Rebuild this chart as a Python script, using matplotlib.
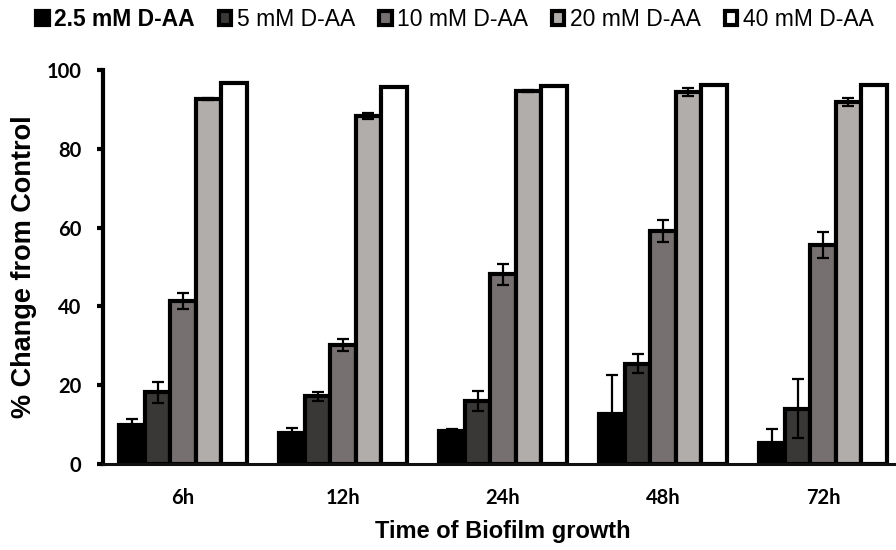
import numpy as np
import matplotlib
matplotlib.use("Agg")
import matplotlib.pyplot as plt
from matplotlib.patches import Patch

# data
times = ["6h", "12h", "24h", "48h", "72h"]
series = ["2.5 mM D-AA", "5 mM D-AA", "10 mM D-AA", "20 mM D-AA", "40 mM D-AA"]
d25 = [9.9, 7.9, 8.3, 12.7, 5.3]
d5 = [18.2, 17.2, 16.0, 25.5, 14.0]
d10 = [41.4, 30.2, 48.1, 59.1, 55.6]
d20 = [92.7, 88.3, 94.7, 94.5, 91.8]
d40 = [96.8, 95.6, 95.9, 96.1, 96.3]
e25 = [1.5, 1.3, 0.7, 9.9, 3.6]
e5 = [2.7, 1.1, 2.6, 2.4, 7.5]
e10 = [2.1, 1.6, 2.6, 2.8, 3.3]
e20 = [0.3, 0.7, 0.2, 1.0, 1.0]
e40 = [0.0, 0.0, 0.0, 0.0, 0.0]

vals = [d25, d5, d10, d20, d40]
errs = [e25, e5, e10, e20, e40]
colors = ["#000000", "#3a3836", "#767170", "#b0adab", "#ffffff"]

fig = plt.figure(figsize=(8.96, 5.5), dpi=100)
ax = fig.add_axes([103/896, 86/550, 800/896, 394/550])

x = np.arange(len(times))
w = 0.159
for i in range(5):
    pos = x + (i - 2) * w
    ax.bar(pos, vals[i], w, color=colors[i], edgecolor="black", linewidth=3, zorder=2)
    ax.errorbar(pos, vals[i], yerr=errs[i], fmt="none", ecolor="black",
                elinewidth=1.6, capsize=4.5, capthick=1.6, zorder=3)

ax.set_xlim(-0.5, 4.5)
ax.set_ylim(0, 100)
ax.set_yticks([0, 20, 40, 60, 80, 100])
ax.set_xticks(x)
ax.set_xticklabels(times)
for lab in ax.get_xticklabels() + ax.get_yticklabels():
    lab.set_family("Lato")
    lab.set_fontweight("bold")
    lab.set_fontsize(14.5)
ax.tick_params(axis="x", length=0, pad=17)
ax.tick_params(axis="y", length=4.5, width=3, direction="out", pad=11)

for s in ["top", "right"]:
    ax.spines[s].set_visible(False)
ax.spines["left"].set_linewidth(3)
ax.spines["bottom"].set_linewidth(2.2)
ax.spines["bottom"].set_color("#111111")

ax.set_ylabel("% Change from Control", family="Liberation Sans", fontweight="bold",
              fontsize=19.5)
ax.yaxis.set_label_coords(-66/800, 0.5)
ax.set_xlabel("Time of Biofilm growth", family="Liberation Sans", fontweight="bold",
              fontsize=17)
ax.xaxis.set_label_coords(0.5, -56/394)

handles = [Patch(facecolor=c, edgecolor="black", linewidth=3, joinstyle="round")
           for c in colors]
leg = fig.legend(handles, series, loc="center", bbox_to_anchor=(455/896, 1 - 20/550),
                 ncol=5, frameon=False, handlelength=0.55, handleheight=0.55,
                 handletextpad=0.25, columnspacing=1.03, borderpad=0,
                 prop={"family": "Liberation Sans", "size": 16.5})
leg.get_texts()[0].set_fontweight("bold")

fig.savefig("out.png", dpi=100)
